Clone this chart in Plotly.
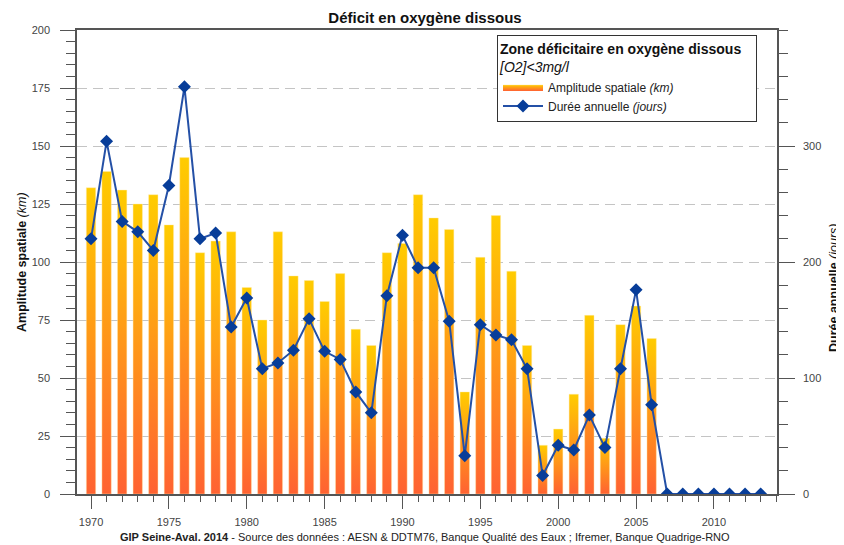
import plotly.graph_objects as go

years_bars = list(range(1970, 2007))
amplitude_km = [132, 139, 131, 125, 129, 116, 145, 104, 109, 113,
                89, 75, 113, 94, 92, 83, 95, 71, 64, 104,
                108, 129, 119, 114, 44, 102, 120, 96, 64, 21,
                28, 43, 77, 24, 73, 81, 67]

years_line = list(range(1970, 2014))
duree_jours = [220, 304, 235, 226, 210, 266, 351, 220, 225, 144,
               169, 108, 113, 124, 151, 123, 116, 88, 70, 171,
               223, 195, 195, 149, 33, 146, 137, 133, 108, 16,
               42, 38, 68, 40, 108, 176, 77, 0, 0, 0,
               0, 0, 0, 0]

left_ticks = [0, 25, 50, 75, 100, 125, 150, 175, 200]
right_ticks = [0, 100, 200, 300]
x_ticks = [1970, 1975, 1980, 1985, 1990, 1995, 2000, 2005, 2010]

FONT = "Liberation Sans, Arial, sans-serif"
HALF_W = 0.30
GRAD = [[0, "#FF6232"], [1, "#FFCC00"]]

# page has an 8px body margin: figure is placed at (8, 8)
W, H = 836, 537
ML, MT, PW, PH = 69, 22, 700, 464

fig = go.Figure()

for i, (yr, v) in enumerate(zip(years_bars, amplitude_km)):
    fig.add_trace(go.Scatter(
        x=[yr - HALF_W, yr - HALF_W, yr + HALF_W, yr + HALF_W, yr - HALF_W],
        y=[0, v, v, 0, 0],
        mode="lines", fill="toself",
        line=dict(width=0.6, color="rgba(255,235,170,0.7)"),
        fillgradient=dict(type="vertical", colorscale=GRAD),
        fillcolor="#FF9922",
        name="Amplitude spatiale <i>(km)</i>",
        legendgroup="amp", showlegend=(i == 0),
        hoverinfo="skip", yaxis="y"))

fig.add_trace(go.Scatter(
    x=years_line, y=duree_jours, yaxis="y2",
    mode="lines+markers",
    line=dict(color="#2450A6", width=2),
    marker=dict(symbol="diamond", size=10, color="#073D99",
                line=dict(width=0)),
    name="Durée annuelle <i>(jours)</i>"))

axis_line = "#555555"
fig.update_layout(
    width=W, height=H,
    margin=dict(l=ML, r=W - ML - PW, t=MT, b=H - MT - PH, autoexpand=False),
    paper_bgcolor="white", plot_bgcolor="white",
    font=dict(family=FONT, size=11, color="#444444"),
    showlegend=True,
    title=dict(text="<b>Déficit en oxygène dissous</b>",
               x=(425 - 8) / W, xanchor="center", y=1 - (18 - 8) / H, yanchor="middle",
               font=dict(family=FONT, size=15, color="#111111")),
    xaxis=dict(range=[1969.1, 2014.05], tickvals=x_ticks,
               showgrid=False, zeroline=False,
               showline=True, linecolor=axis_line, linewidth=1.5, mirror=True,
               ticks="outside", ticklen=13, tickcolor=axis_line, tickwidth=1,
               ticklabelstandoff=4,
               minor=dict(dtick=1, ticks="outside", ticklen=6,
                          tickcolor=axis_line, showgrid=False),
               tickfont=dict(size=11, color="#444444")),
    yaxis=dict(range=[0, 200], tickvals=left_ticks,
               showgrid=True, gridcolor="#C4C4C4", griddash="10px,6px",
               gridwidth=1, zeroline=False,
               showline=True, linecolor=axis_line, linewidth=1.5,
               ticks="outside", ticklen=15, tickcolor=axis_line, tickwidth=1,
               ticklabelstandoff=8,
               minor=dict(dtick=5, ticks="outside", ticklen=9,
                          tickcolor=axis_line, showgrid=False),
               tickfont=dict(size=11, color="#444444")),
    yaxis2=dict(range=[0, 400], tickvals=right_ticks, overlaying="y",
                side="right", showgrid=False, zeroline=False,
                showline=True, linecolor=axis_line, linewidth=1.5,
                ticks="outside", ticklen=16, tickcolor=axis_line, tickwidth=1,
                ticklabelstandoff=6,
                minor=dict(dtick=20, ticks="outside", ticklen=9,
                           tickcolor=axis_line, showgrid=False),
                tickfont=dict(size=11, color="#444444")),
    legend=dict(x=(497 - 77) / PW, y=(494 - 35) / PH, xanchor="left", yanchor="top",
                bgcolor="white", bordercolor="#333333", borderwidth=1,
                itemwidth=40, tracegroupgap=0,
                font=dict(family=FONT, size=12, color="#222222"),
                title=dict(text="<b>Zone déficitaire en oxygène dissous</b>&nbsp;&nbsp;&nbsp;<br><i>[O2]<3mg/l</i>",
                           side="top",
                           font=dict(family=FONT, size=14, color="#111111"))),
    annotations=[
        dict(text="<b>Amplitude spatiale</b> <i>(km)</i>", textangle=-90,
             xref="paper", yref="paper", x=(22 - 77) / PW, y=(494 - 262) / PH,
             xanchor="center", yanchor="middle",
             showarrow=False, font=dict(family=FONT, size=12.5, color="#111111")),
        dict(text="<b>Durée annuelle</b> <i>(jours)</i>", textangle=-90,
             xref="paper", yref="paper", x=(834 - 77) / PW, y=(494 - 288) / PH,
             xanchor="center", yanchor="middle",
             showarrow=False, font=dict(family=FONT, size=12.5, color="#111111")),
        dict(text="<b>GIP Seine-Aval. 2014</b> - Source des données : AESN & DDTM76, Banque Qualité des Eaux ; Ifremer, Banque Quadrige-RNO",
             xref="paper", yref="paper", x=(425 - 77) / PW, y=(494 - 537) / PH,
             xanchor="center", yanchor="middle",
             showarrow=False, font=dict(family=FONT, size=11, color="#222222")),
    ],
)

fig.write_html("out.html")
